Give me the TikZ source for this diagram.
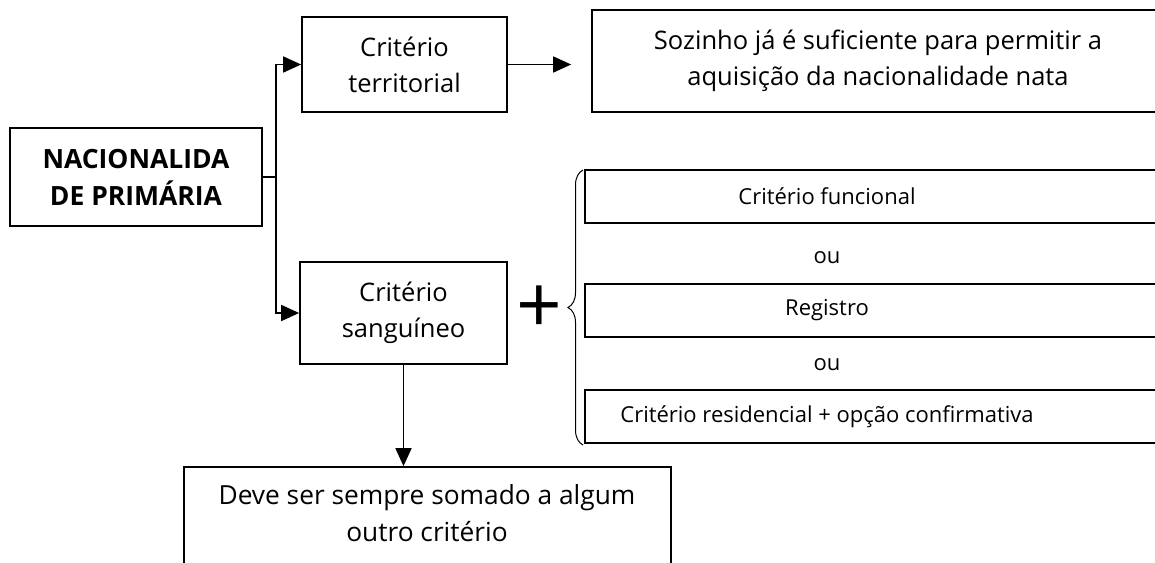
\documentclass[tikz,border=0pt]{standalone}
\usepackage{fontspec}
\setmainfont{Open Sans}
\usetikzlibrary{arrows.meta,decorations.pathreplacing}

\begin{document}
\begin{tikzpicture}[x=1pt,y=-1pt,
  box/.style={draw,line width=1.7pt,align=center,inner sep=0pt,
    font=\fontsize{25.5}{36}\selectfont},
  rbox/.style={draw,line width=1.3pt,inner sep=0pt},
  txt/.style={font=\fontsize{22}{33}\selectfont,inner sep=0pt},
  arr/.style={line width=1.7pt,-{Triangle[length=18pt,width=16pt]}}]
\useasboundingbox (0,0) rectangle (1155,562);
\clip (0,0) rectangle (1155,562);

\node [box,minimum width=252pt,minimum height=98pt,font=\fontsize{26.5}{37}\selectfont\bfseries] (nac) at (136,177) {NACIONALIDA\\DE PRIMÁRIA};
\node [box,minimum width=205pt,minimum height=95pt] (terr) at (404.5,64.5) {Critério\\territorial};
\node [box,minimum width=572pt,minimum height=102pt] (soz) at (878,61) {Sozinho já é suficiente para permitir a\\aquisição da nacionalidade nata};
\node [box,minimum width=207pt,minimum height=102pt] (sang) at (403.5,313) {Critério\\sanguíneo};
\node [box,minimum width=487pt,minimum height=110pt] (soma) at (427.5,522) {};
\node [txt,align=center,font=\fontsize{26.3}{37}\selectfont] (somatxt) at (427,513.5) {Deve ser sempre somado a algum\\outro critério};

% alternativas
\node [rbox,minimum width=580pt,minimum height=53pt] (func) at (875,196.5) {};
\node [txt] (functxt) at (827,196.5) {Critério funcional};
\node [txt] (ou1) at (827,258) {ou};
\node [rbox,minimum width=580pt,minimum height=53pt] (reg) at (875,310.5) {};
\node [txt] (regtxt) at (827,310.5) {Registro};
\node [txt] (ou2) at (827,365) {ou};
\node [rbox,minimum width=580pt,minimum height=53pt] (res) at (875,416.5) {};
\node [txt] (restxt) at (827,416.5) {Critério residencial + opção confirmativa};

\node [inner sep=0pt,font=\fontsize{80}{80}\selectfont] (mais) at (539,310) {+};
\draw [line width=1pt,decorate,decoration={brace,amplitude=15pt}]
  (583,445) -- (583,170);

\draw [arr] (nac.east) -- ++(13,0) |- (terr.west);
\draw [arr] (nac.east) -- ++(13,0) |- (sang.west);
\draw [arr,shorten >=20pt] (terr.east) -- (terr.east -| soz.west);
\draw [arr] (sang.south) -- (sang.south |- soma.north);
\end{tikzpicture}
\end{document}
